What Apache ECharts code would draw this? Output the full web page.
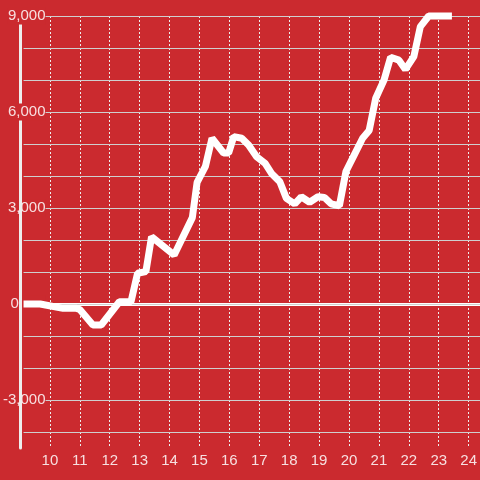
<!DOCTYPE html>
<html>
<head>
<meta charset="utf-8">
<script src="https://cdn.jsdelivr.net/npm/echarts@6/dist/echarts.min.js"></script>
<style>
  html, body { margin: 0; padding: 0; background: #cb2a2f; }
  #main { width: 480px; height: 480px; }
</style>
</head>
<body>
<div id="main"></div>
<script>
// hour of day (x) and running value (y)
var hours = [9, 9.56, 10.33, 10.78, 10.89, 11.33, 11.61, 12.22, 12.61, 12.83, 13.11, 13.3,
  13.78, 14.06, 14.67, 14.83, 15.11, 15.33, 15.72, 15.89, 16.06, 16.33, 16.56, 16.83,
  17.11, 17.33, 17.61, 17.83, 18.11, 18.33, 18.61, 18.89, 19.11, 19.33, 19.61, 19.83,
  20.11, 20.39, 20.61, 20.83, 21.11, 21.33, 21.61, 21.83, 22.11, 22.33, 22.61, 23.39];
var values = [0, 0, -135, -135, -170, -656, -656, 70, 70, 960, 1010, 2100,
  1740, 1530, 2700, 3800, 4300, 5180, 4720, 4720, 5230, 5180, 4970, 4600,
  4400, 4080, 3820, 3300, 3130, 3350, 3180, 3350, 3330, 3130, 3070, 4140,
  4660, 5180, 5420, 6430, 7000, 7710, 7620, 7330, 7730, 8670, 9000, 9000];
var lowTicks = [-3000, 0, 3000];   // labels drawn under the axis line
var highTicks = [6000, 9000];      // labels drawn over the axis line

var bg = '#cb2a2f';
var labelColor = 'rgba(255,255,255,0.85)';
var font = 'Liberation Sans';

function makeFmt(list) {
  return function (v) {
    if (list.indexOf(v) < 0) return '';
    if (v === 0) return '{z|0}';
    var s = Math.abs(v).toString().replace(/\B(?=(\d{3})+(?!\d))/g, ',');
    return '{n|' + (v < 0 ? '-' : '') + s + '}';
  };
}

function labelOpt(list) {
  return {
    formatter: makeFmt(list), fontSize: 15, fontFamily: font, color: labelColor,
    margin: -22, backgroundColor: bg, padding: [1, 0, 1, 0],
    rich: {
      n: { fontSize: 15, fontFamily: font, color: labelColor },
      z: { width: 35, align: 'left', fontSize: 15, fontFamily: font, color: labelColor }
    }
  };
}

var pts = hours.map(function (h, i) { return [h, values[i]]; });

var myChart = echarts.init(document.getElementById('main'));
myChart.setOption({
  backgroundColor: bg,
  animation: false,
  textStyle: { fontFamily: font },
  grid: [
    { left: 20, right: 0, top: 16, bottom: 48 },
    { left: 20, right: 0, top: 16, bottom: 32 }
  ],
  xAxis: [
    {
      gridIndex: 0, type: 'value', min: 9, max: 24.3333,
      axisLine: { show: true, onZero: true, lineStyle: { color: '#fff', width: 3 } },
      axisTick: { show: false }, axisLabel: { show: false }, splitLine: { show: false }
    },
    {
      gridIndex: 1, type: 'value', min: 9, max: 24.3333, interval: 1,
      axisLine: { show: false }, axisTick: { show: false },
      axisLabel: { fontSize: 15, fontFamily: font, color: labelColor, margin: 5,
        showMinLabel: false, showMaxLabel: false },
      splitLine: { show: true, showMinLine: false, showMaxLine: false,
        lineStyle: { color: '#eee', width: 1, type: [2, 2] } }
    }
  ],
  yAxis: [
    {
      gridIndex: 0, type: 'value', min: -4000, max: 9000, interval: 1000, z: 1,
      axisLine: { show: false }, axisTick: { show: false },
      axisLabel: labelOpt(lowTicks),
      splitLine: { show: true, lineStyle: { color: '#cfcfcf', width: 1 } }
    },
    {
      gridIndex: 1, type: 'value', min: -4500, max: 9000, z: 3,
      axisLine: { show: true, lineStyle: { color: '#eee', width: 3 } },
      axisTick: { show: false }, axisLabel: { show: false }, splitLine: { show: false }
    },
    {
      gridIndex: 0, type: 'value', min: -4000, max: 9000, interval: 1000, z: 4,
      position: 'left',
      axisLine: { show: false }, axisTick: { show: false },
      axisLabel: labelOpt(highTicks),
      splitLine: { show: false }
    }
  ],
  series: [
    {
      type: 'line', xAxisIndex: 0, yAxisIndex: 0, data: pts,
      showSymbol: false, clip: false, z: 6,
      lineStyle: { color: '#fff', width: 7 }
    }
  ]
});
</script>
</body>
</html>
